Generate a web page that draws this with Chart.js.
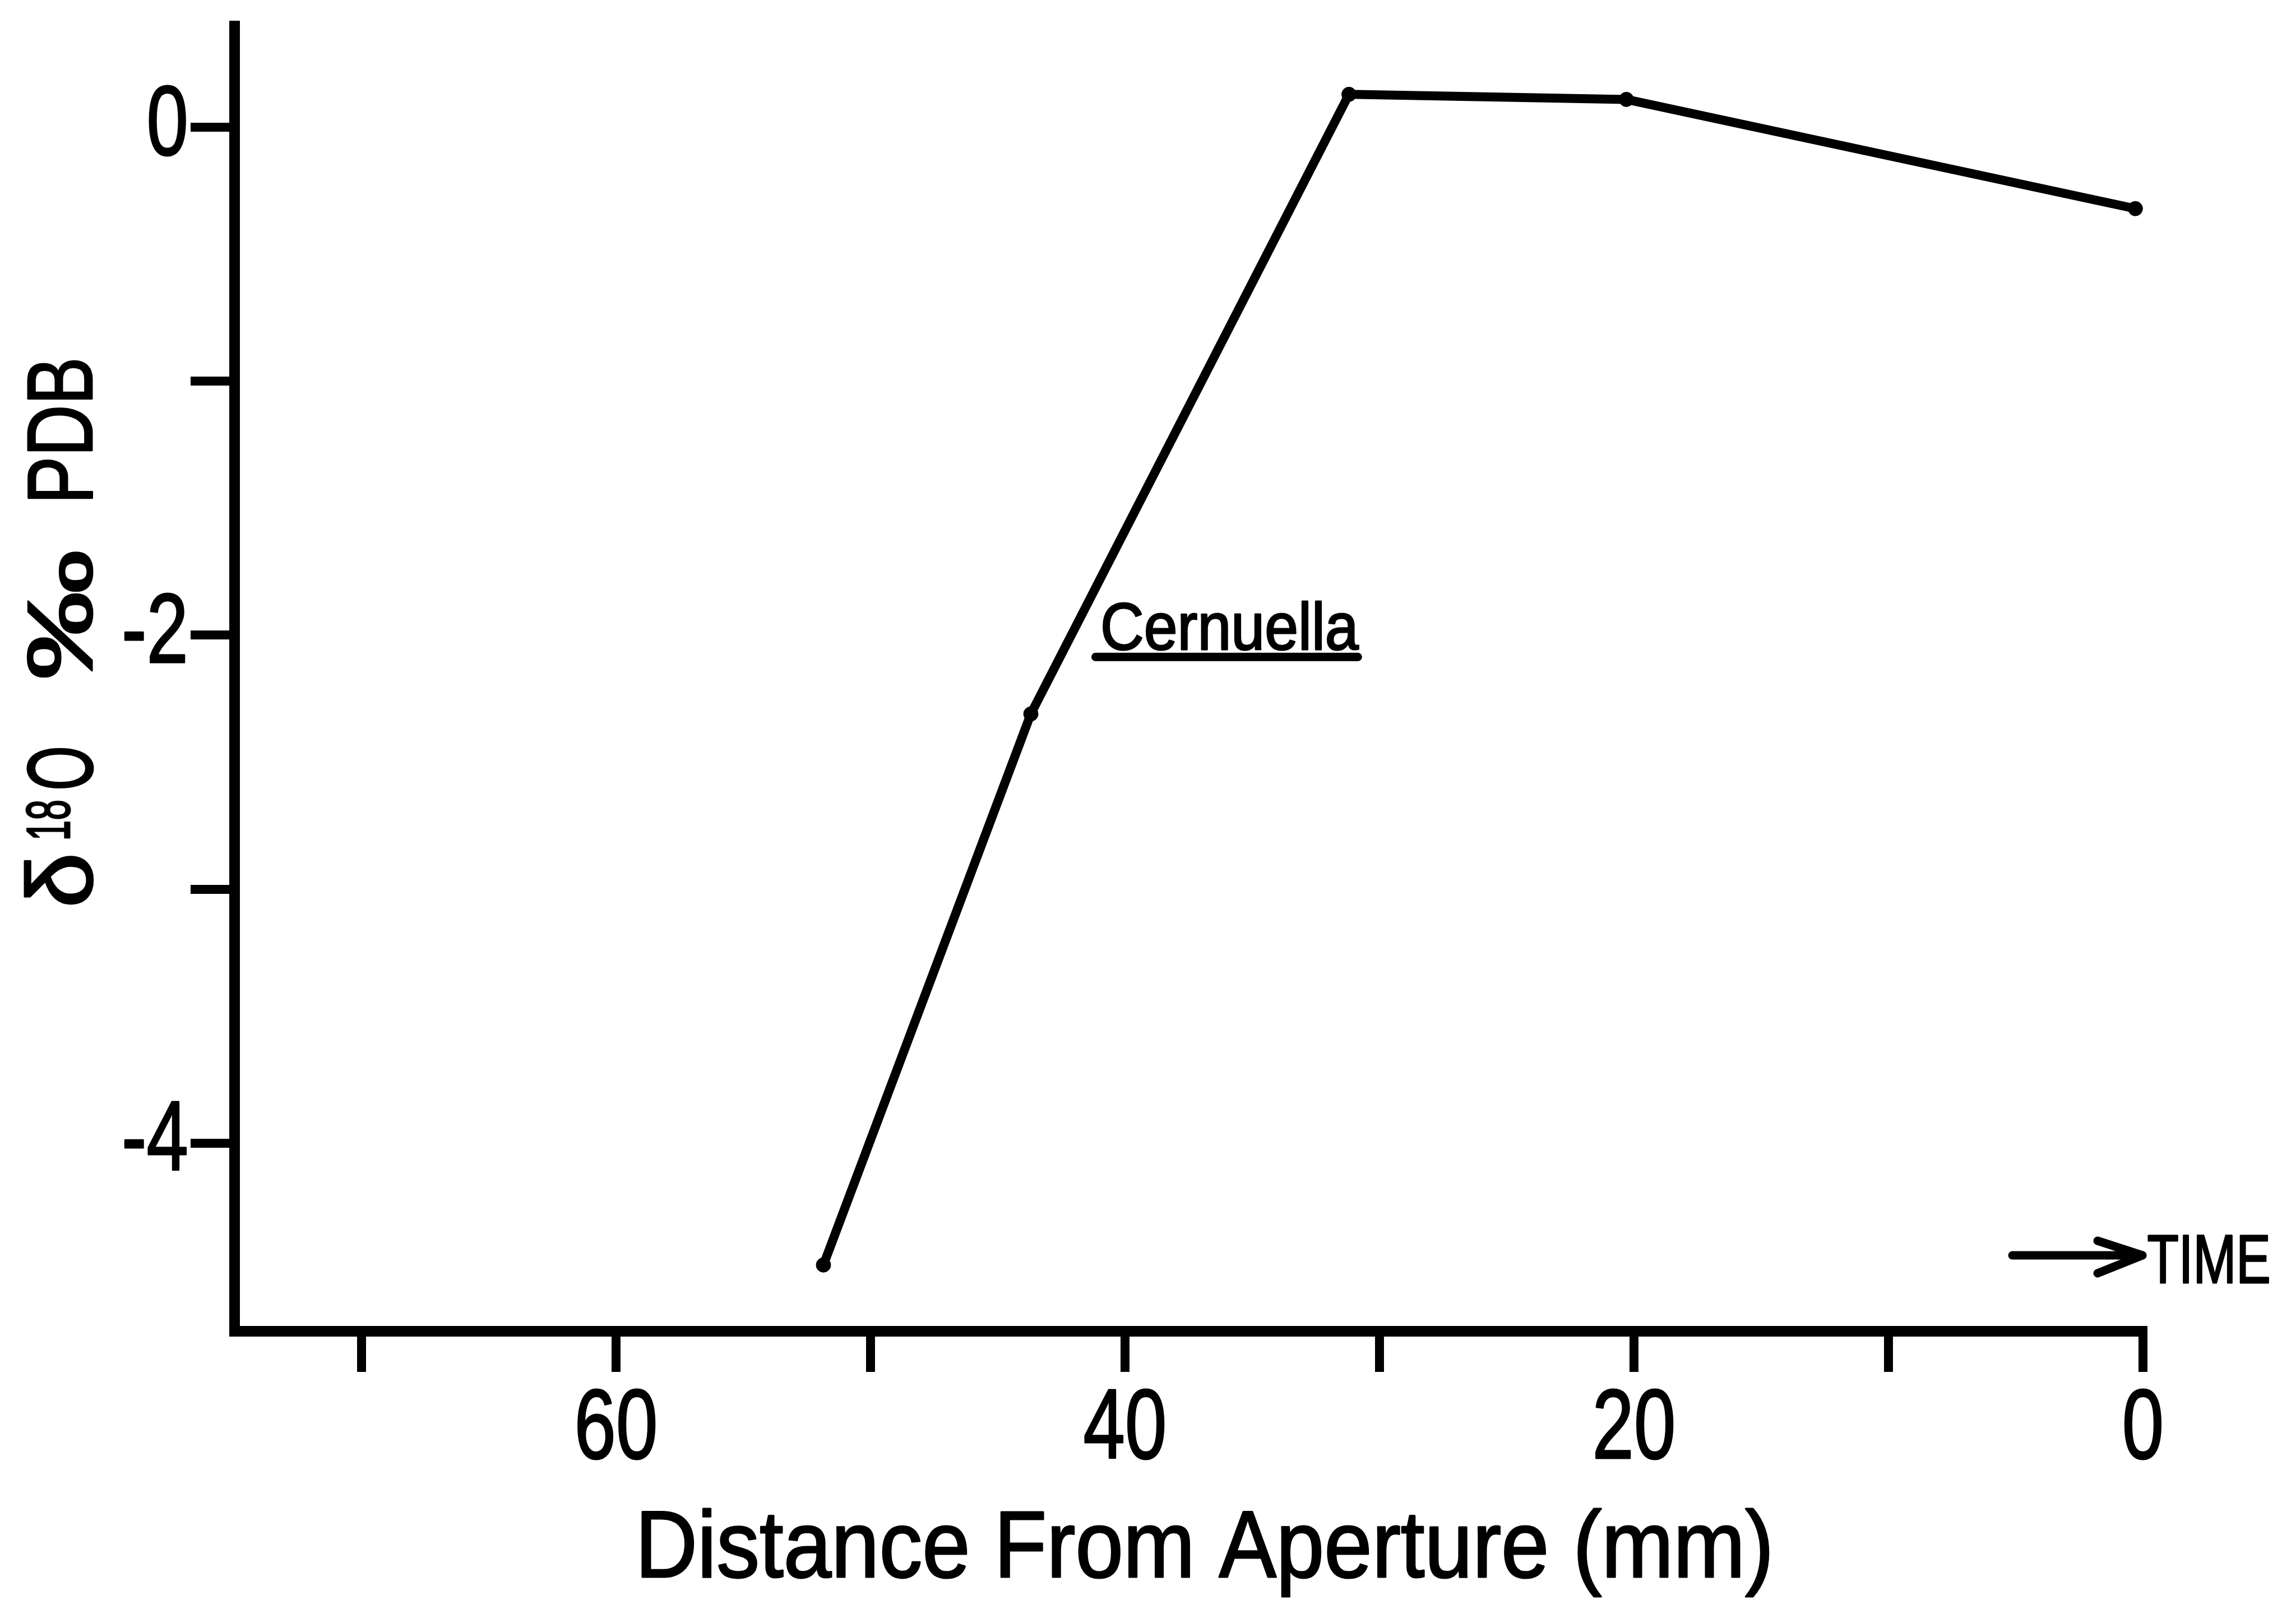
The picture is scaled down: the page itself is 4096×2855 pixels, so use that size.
<!DOCTYPE html>
<html>
<head>
<meta charset="utf-8">
<title>Cernuella δ18O profile</title>
<script src="https://cdn.jsdelivr.net/npm/chart.js@4.4.1/dist/chart.umd.min.js"></script>
<style>
  html, body { margin: 0; padding: 0; background: #ffffff; }
  canvas { display: block; }
</style>
</head>
<body>
<canvas id="chart" width="4096" height="2855"></canvas>
<script>
// Sample positions along the shell (mm from the aperture) and their δ18O values (‰ PDB)
const distanceMm = [51.85, 43.7, 31.2, 20.3, 0.3];
const delta18O   = [-4.48, -2.31, 0.13, 0.11, -0.32];
const seriesName = 'Cernuella';

// Axis ticks: every tick gets a mark, only some get a label
const xTickValues = [0, 10, 20, 30, 40, 50, 60, 70];
const xTickLabels = ['0', '', '20', '', '40', '', '60', ''];
const yTickValues = [-4, -3, -2, -1, 0];
const yTickLabels = ['-4', '', '-2', '', '0'];

const xTitle = 'Distance From Aperture (mm)';
const timeLabel = 'TIME';

const FONT = "'Liberation Sans', Arial, 'DejaVu Sans', sans-serif";
const INK = '#000000';

const canvas = document.getElementById('chart');
const ctx = canvas.getContext('2d');

// Narrow, pen-weight lettering: text is condensed around its anchor and
// given a thin outline so the strokes read like drafting-pen letters
const rawFillText = ctx.fillText.bind(ctx);
const rawStrokeText = ctx.strokeText.bind(ctx);
let squeeze = 1;
const PEN = 3;
ctx.fillText = function (text, x, y, maxWidth) {
  this.save();
  this.translate(x, y);
  this.scale(squeeze, 1);
  this.strokeStyle = this.fillStyle;
  this.lineWidth = PEN;
  this.lineJoin = 'round';
  if (maxWidth === undefined) {
    rawFillText(text, 0, 0);
    rawStrokeText(text, 0, 0);
  } else {
    rawFillText(text, 0, 0, maxWidth / squeeze);
    rawStrokeText(text, 0, 0, maxWidth / squeeze);
  }
  this.restore();
};

// Draws text so that its ink spans exactly [x0, x1] on the given baseline
function fitText(c, text, x0, x1, baseline, font) {
  c.font = font;
  c.textAlign = 'left';
  c.textBaseline = 'alphabetic';
  const m = c.measureText(text);
  const ink = m.actualBoundingBoxLeft + m.actualBoundingBoxRight;
  const sx = (x1 - x0) / ink;
  c.save();
  c.translate(x0, baseline);
  c.scale(sx, 1);
  c.fillText(text, m.actualBoundingBoxLeft, 0);
  c.restore();
}

const lettering = {
  id: 'lettering',
  beforeDraw(chart) {
    const c = chart.ctx;
    c.save();
    c.fillStyle = '#ffffff';
    c.fillRect(0, 0, chart.width, chart.height);
    c.restore();
    squeeze = 0.76;
  },
  beforeDatasetsDraw() {
    squeeze = 1;
  },
  afterDraw(chart) {
    squeeze = 1;
    const c = chart.ctx;
    const area = chart.chartArea;
    const xs = chart.scales.x;
    const ys = chart.scales.y;
    c.save();
    c.fillStyle = INK;
    c.strokeStyle = INK;

    // x-axis title
    fitText(c, xTitle, area.left + 727, area.right - 668, area.bottom + 439, `169px ${FONT}`);

    // y-axis title, rotated, centred on the -2 tick
    c.save();
    c.translate(area.left - 254, ys.getPixelForValue(-2) + 480);
    c.rotate(-Math.PI / 2);
    fitText(c, 'δ', 0, 85, 0, `165px ${FONT}`);
    fitText(c, '18', 118, 184, -40, `110px ${FONT}`);
    fitText(c, 'O', 207, 278, 0, `165px ${FONT}`);
    fitText(c, '‰', 406, 628, 0, `165px ${FONT}`);
    fitText(c, 'PDB', 724, 970, 0, `165px ${FONT}`);
    c.restore();

    // Series name next to the curve, underlined
    const lx = xs.getPixelForValue(40.85);
    const ly = ys.getPixelForValue(-2.057);
    fitText(c, seriesName, lx, lx + 456, ly, `119px ${FONT}`);
    c.strokeStyle = INK;
    c.lineWidth = 15;
    c.lineCap = 'round';
    c.beginPath();
    c.moveTo(lx - 14, ly + 13);
    c.lineTo(lx + 454, ly + 13);
    c.stroke();

    // Direction-of-time arrow above the right end of the x axis
    const tipX = area.right - 1;
    const tipY = area.bottom - 135;
    c.lineWidth = 15;
    c.lineJoin = 'round';
    c.beginPath();
    c.moveTo(area.right - 233, tipY);
    c.lineTo(tipX, tipY);
    c.stroke();
    c.beginPath();
    c.moveTo(area.right - 81, tipY - 26);
    c.lineTo(tipX, tipY);
    c.lineTo(area.right - 81, tipY + 32);
    c.stroke();
    fitText(c, timeLabel, area.right + 9, area.right + 224, area.bottom - 86, `123px ${FONT}`);

    c.restore();
  }
};

// Fixed axis sizes so the plot area keeps its place on the page
function fixXAxis(scale) {
  scale.height = 480;
  scale.paddingLeft = 0;
  scale.paddingRight = 0;
}
function fixYAxis(scale) {
  scale.width = 418;
  scale.paddingTop = 0;
  scale.paddingBottom = 0;
}

new Chart(ctx, {
  type: 'line',
  data: {
    datasets: [{
      label: seriesName,
      data: distanceMm.map((d, i) => ({ x: d, y: delta18O[i] })),
      borderColor: INK,
      borderWidth: 16,
      borderJoinStyle: 'round',
      borderCapStyle: 'round',
      pointRadius: 13,
      pointBorderWidth: 1,
      pointBackgroundColor: INK,
      pointBorderColor: INK,
      tension: 0,
      fill: false,
      clip: false
    }]
  },
  options: {
    responsive: false,
    animation: false,
    devicePixelRatio: 1,
    layout: { padding: { top: 46, right: 273, bottom: 0, left: 0 } },
    plugins: {
      legend: { display: false },
      tooltip: { enabled: false }
    },
    scales: {
      x: {
        type: 'linear',
        reverse: true,
        min: 0,
        max: 75,
        afterFit: fixXAxis,
        afterBuildTicks(scale) { scale.ticks = xTickValues.map(v => ({ value: v })); },
        border: { display: true, width: 19, color: INK },
        grid: {
          drawOnChartArea: false,
          drawTicks: true,
          tickLength: 73,
          tickWidth: 16,
          tickColor: INK,
          lineWidth: 16,
          color: INK
        },
        ticks: {
          autoSkip: false,
          maxRotation: 0,
          minRotation: 0,
          padding: 0,
          color: INK,
          font: { family: FONT, size: 176, lineHeight: 1.2 },
          callback: (value, index) => xTickLabels[index]
        }
      },
      y: {
        type: 'linear',
        min: -4.74,
        max: 0.40,
        afterFit: fixYAxis,
        afterBuildTicks(scale) { scale.ticks = yTickValues.map(v => ({ value: v })); },
        border: { display: true, width: 19, color: INK },
        grid: {
          drawOnChartArea: false,
          drawTicks: true,
          tickLength: 78,
          tickWidth: 16,
          tickColor: INK,
          lineWidth: 16,
          color: INK
        },
        ticks: {
          autoSkip: false,
          padding: 4,
          color: INK,
          font: { family: FONT, size: 176, lineHeight: 1.2 },
          callback: (value, index) => yTickLabels[index]
        }
      }
    }
  },
  plugins: [lettering]
});
</script>
</body>
</html>
